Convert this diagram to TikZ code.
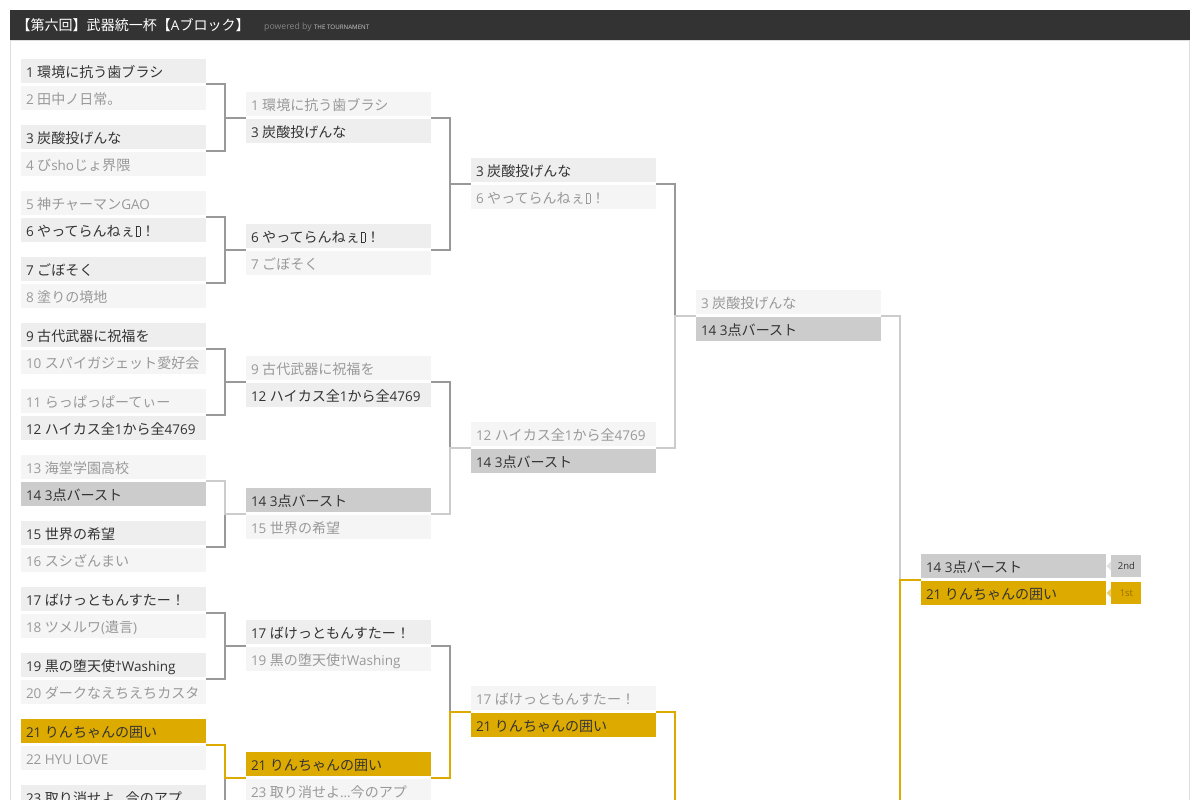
\documentclass[tikz,border=0pt]{standalone}
\usepackage{fontspec}
\setmainfont{Open Sans}
\newfontfamily\jpfont[Scale=1.04]{Noto Sans CJK JP}
\usepackage{tikz}
\usetikzlibrary{positioning}

% Japanese font for kana, kanji and full-width forms
\XeTeXinterchartokenstate=1
\newXeTeXintercharclass\JaClass
\makeatletter
\def\jarange#1#2{\count@=#1\relax
  \loop\XeTeXcharclass\count@=\JaClass
  \ifnum\count@<#2\advance\count@\@ne\repeat}
\jarange{"3000}{"30FF}
\jarange{"4E00}{"9FFF}
\jarange{"FF00}{"FFEF}
\makeatother
\XeTeXinterchartoks 0 \JaClass = {\jpfont}
\XeTeXinterchartoks 4095 \JaClass = {\jpfont}
\XeTeXinterchartoks \JaClass 0 = {\rmfamily}
\XeTeXinterchartoks \JaClass 4095 = {\rmfamily}

\definecolor{barbg}{HTML}{333333}
\definecolor{frame}{HTML}{DDDDDD}
\definecolor{powtext}{HTML}{858585}
\definecolor{winfill}{HTML}{EEEEEE}
\definecolor{losefill}{HTML}{F5F5F5}
\definecolor{wintext}{HTML}{333333}
\definecolor{losetext}{HTML}{999999}
\definecolor{silverfill}{HTML}{CCCCCC}
\definecolor{goldfill}{HTML}{DDAA00}
\definecolor{goldtext}{HTML}{946F00}
\definecolor{wire}{HTML}{999999}

\newcommand\rowtext[1]{\makebox[175pt][l]{#1}}
\newcommand\tofu{\kern.8pt\vbox{\hrule\hbox{\vrule height 9.5pt\kern4pt\vrule}\hrule}\kern.8pt}

\tikzset{
  match/.style={minimum width=185pt, minimum height=51.5pt, inner sep=0pt},
  row/.style={minimum width=185pt, minimum height=24.5pt, inner xsep=5pt, inner ysep=0pt,
    text height=13.25pt, text depth=.25pt, font=\fontsize{13.5}{16}\selectfont},
  win/.style={row, fill=winfill, text=wintext},
  lose/.style={row, fill=losefill, text=losetext},
  silv/.style={row, fill=silverfill, text=wintext},
  gld/.style={row, fill=goldfill, text=wintext},
  wgray/.style={draw=wire, line width=2pt},
  wsilv/.style={draw=silverfill, line width=2pt},
  wgold/.style={draw=goldfill, line width=2pt},
  ranktag/.style={minimum width=30pt, minimum height=22pt, inner sep=0pt,
    font=\fontsize{9.5}{11}\selectfont}
}

\begin{document}
\begin{tikzpicture}[x=1pt,y=-1pt]
  \useasboundingbox (0,0) rectangle (1200,800);
  \clip (0,0) rectangle (1200,800);
  \fill[white] (0,0) rectangle (1200,800);
  % Header bar and panel
  \draw[frame, fill=white] (10.5,40) rectangle (1189.5,830);
  \fill[barbg] (10,10) rectangle (1190,40);
  \node[anchor=west, text=white, font=\fontsize{13.5}{16}\selectfont] (title) at (13,25) {【第六回】武器統一杯【Aブロック】};
  \node[anchor=base west, inner sep=0pt, text=powtext, font=\fontsize{8.7}{10}\selectfont] (pow) at (264,30) {powered by};
  \node[anchor=base west, inner sep=0pt, text=powtext!45!white, font=\fontsize{6.2}{7}\selectfont] (brand) at ([xshift=2pt]pow.base east) {THE TOURNAMENT};

  % Round 1
  \foreach \k/\ta/\sa/\tb/\sb in {
    1/{1 環境に抗う歯ブラシ}/win/{2 田中ノ日常。}/lose,
    2/{3 炭酸投げんな}/win/{4 びshoじょ界隈}/lose,
    3/{5 神チャーマンGAO}/lose/{6 やってらんねぇ\tofu！}/win,
    4/{7 ごぼそく}/win/{8 塗りの境地}/lose,
    5/{9 古代武器に祝福を}/win/{10 スパイガジェット愛好会}/lose,
    6/{11 らっぱっぱーてぃー}/lose/{12 ハイカス全1から全4769}/win,
    7/{13 海堂学園高校}/lose/{14 3点バースト}/silv,
    8/{15 世界の希望}/win/{16 スシざんまい}/lose,
    9/{17 ばけっともんすたー！}/win/{18 ツメルワ(遺言)}/lose,
    10/{19 黒の堕天使†Washing}/win/{20 ダークなえちえちカスタ}/lose,
    11/{21 りんちゃんの囲い}/gld/{22 HYU LOVE}/lose,
    12/{23 取り消せよ…今のアプ}/win/{}/lose}{
    \node[match] (m1-\k) at (113.5,18.5+66*\k) {};
    \node[\sa, anchor=north] (m1-\k-a) at (m1-\k.north) {\rowtext{\ta}};
    \node[\sb, anchor=south] (m1-\k-b) at (m1-\k.south) {\rowtext{\tb}};
  }

  % Round 2
  \foreach \k/\ta/\sa/\tb/\sb in {
    1/{1 環境に抗う歯ブラシ}/lose/{3 炭酸投げんな}/win,
    2/{6 やってらんねぇ\tofu！}/win/{7 ごぼそく}/lose,
    3/{9 古代武器に祝福を}/lose/{12 ハイカス全1から全4769}/win,
    4/{14 3点バースト}/silv/{15 世界の希望}/lose,
    5/{17 ばけっともんすたー！}/win/{19 黒の堕天使†Washing}/lose,
    6/{21 りんちゃんの囲い}/gld/{23 取り消せよ…今のアプ}/lose}{
    \node[match] (m2-\k) at (338.5,-14.5+132*\k) {};
    \node[\sa, anchor=north] (m2-\k-a) at (m2-\k.north) {\rowtext{\ta}};
    \node[\sb, anchor=south] (m2-\k-b) at (m2-\k.south) {\rowtext{\tb}};
  }

  % Round 3
  \foreach \k/\ta/\sa/\tb/\sb in {
    1/{3 炭酸投げんな}/win/{6 やってらんねぇ\tofu！}/lose,
    2/{12 ハイカス全1から全4769}/lose/{14 3点バースト}/silv,
    3/{17 ばけっともんすたー！}/lose/{21 りんちゃんの囲い}/gld}{
    \node[match] (m3-\k) at (563.5,-80.5+264*\k) {};
    \node[\sa, anchor=north] (m3-\k-a) at (m3-\k.north) {\rowtext{\ta}};
    \node[\sb, anchor=south] (m3-\k-b) at (m3-\k.south) {\rowtext{\tb}};
  }

  % Round 4 (second match lies below the page)
  \node[match] (m4-1) at (788.5,315.5) {};
  \node[lose, anchor=north] (m4-1-a) at (m4-1.north) {\rowtext{3 炭酸投げんな}};
  \node[silv, anchor=south] (m4-1-b) at (m4-1.south) {\rowtext{14 3点バースト}};
  \node[match] (m4-2) at (788.5,843.5) {};

  % Final
  \node[match] (m5-1) at (1013.5,579.5) {};
  \node[silv, anchor=north] (m5-1-a) at (m5-1.north) {\rowtext{14 3点バースト}};
  \node[gld, anchor=south] (m5-1-b) at (m5-1.south) {\rowtext{21 りんちゃんの囲い}};
  \node[ranktag, fill=silverfill, text=wintext, right=5pt of m5-1-a] (second) {2nd};
  \node[ranktag, fill=goldfill, text=goldtext, right=5pt of m5-1-b] (first) {1st};
  \fill[silverfill!60!white] (second.west) ++(0,-4.5) -- ++(-4.5,4.5) -- ++(4.5,4.5) -- cycle;
  \fill[goldfill!60!white] (first.west) ++(0,-4.5) -- ++(-4.5,4.5) -- ++(4.5,4.5) -- cycle;

  % Connectors: plain ones first, winners' paths on top
  \foreach \a/\b/\w in {
    1-1/2-1/wgray, 1-2/2-1/wgray, 1-3/2-2/wgray, 1-4/2-2/wgray,
    1-5/2-3/wgray, 1-6/2-3/wgray, 1-8/2-4/wgray, 1-9/2-5/wgray,
    1-10/2-5/wgray, 1-12/2-6/wgray,
    2-1/3-1/wgray, 2-2/3-1/wgray, 2-3/3-2/wgray, 2-5/3-3/wgray,
    3-1/4-1/wgray,
    1-7/2-4/wsilv, 2-4/3-2/wsilv, 3-2/4-1/wsilv, 4-1/5-1/wsilv,
    1-11/2-6/wgold, 2-6/3-3/wgold, 3-3/4-2/wgold, 4-2/5-1/wgold}
    \draw[\w] (m\a.east) -- ++(19,0) |- (m\b.west);
\end{tikzpicture}
\end{document}
